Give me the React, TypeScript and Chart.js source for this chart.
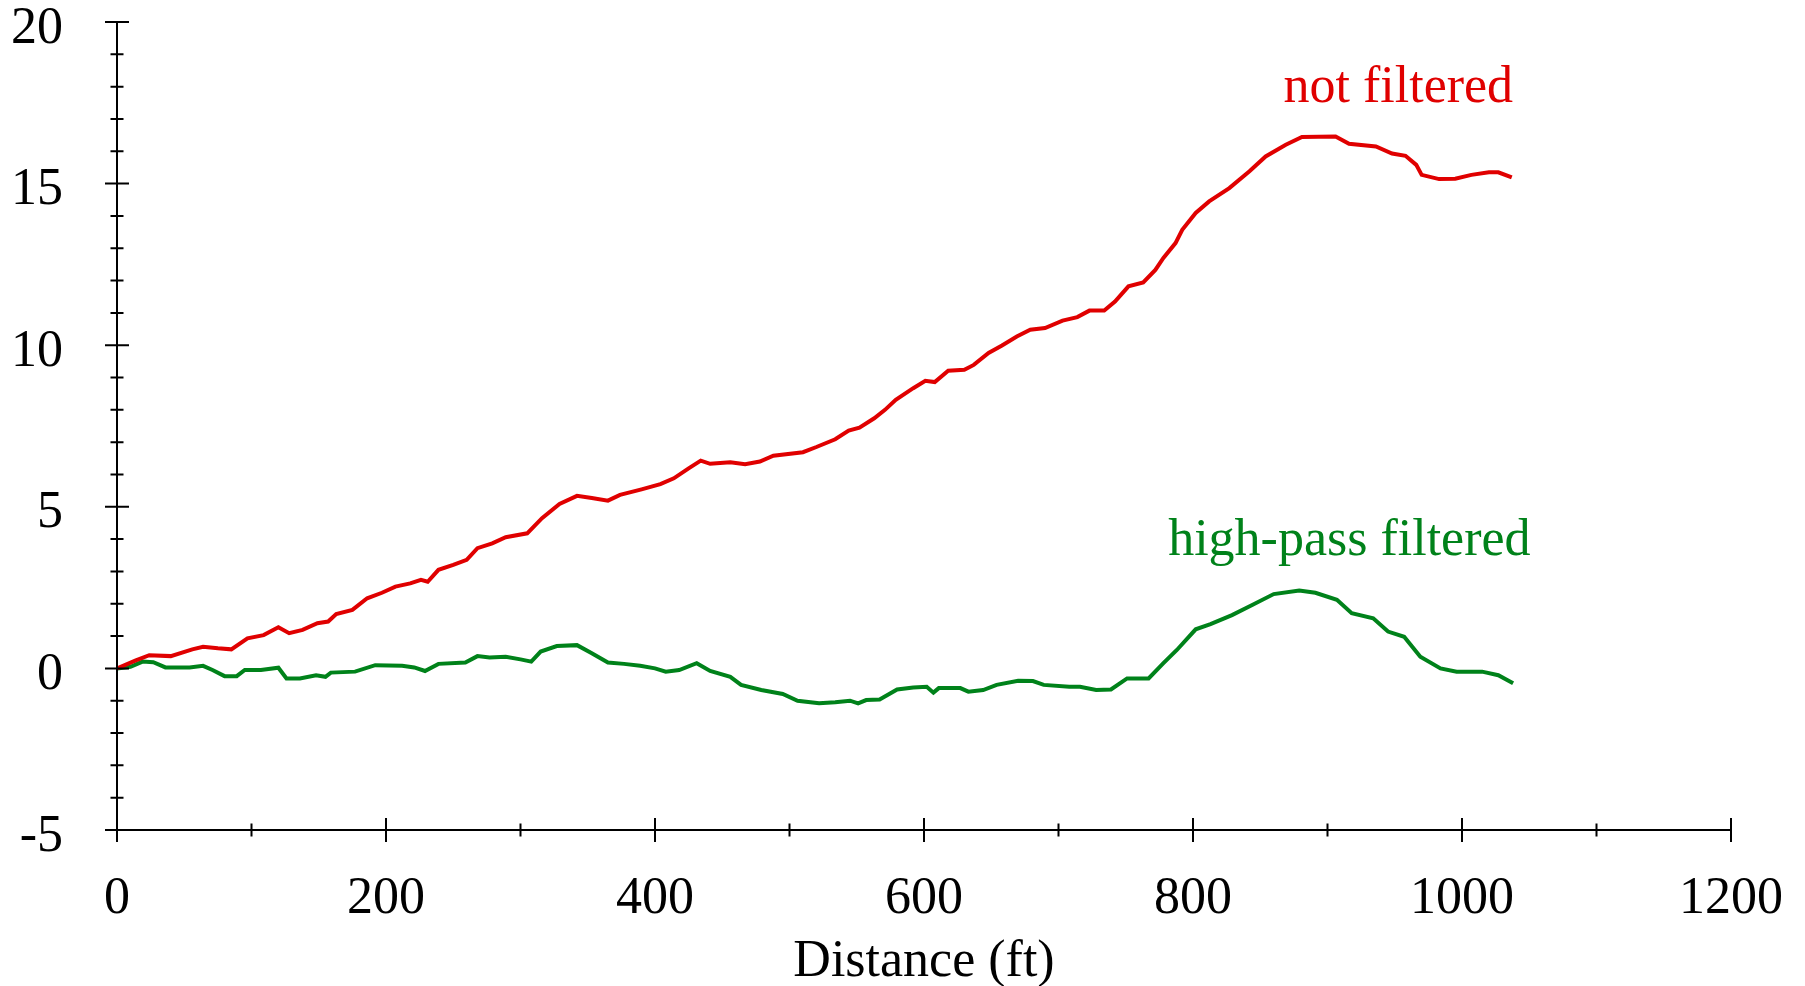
import React, { useEffect, useRef } from "react";
import { Chart, registerables } from "chart.js";

Chart.register(...registerables);

// ---- data ----
const notFilteredDistance = [
  0, 14, 24, 40, 56, 64, 75, 85, 97, 109, 120, 128, 138, 149, 157, 163, 175, 186, 197, 207,
  218, 226, 231, 239, 250, 260, 268, 279, 289, 305, 316, 329, 342, 353, 365, 374, 390, 404, 414, 425,
  434, 441, 456, 467, 478, 488, 510, 520, 534, 544, 552, 563, 571, 579, 592, 601, 608, 618, 630, 637,
  648, 658, 669, 679, 690, 703, 714, 723, 734, 742, 752, 763, 772, 778, 787, 792, 802, 812, 827, 842,
  854, 869, 881, 906, 916, 936, 948, 958, 966, 970, 983, 995, 1007, 1020, 1027, 1037,
];
const notFiltered = [
  0, 0.25, 0.41, 0.38, 0.59, 0.67, 0.62, 0.59, 0.93, 1.03, 1.27, 1.09, 1.19, 1.4, 1.45, 1.68, 1.81, 2.17, 2.34, 2.53,
  2.63, 2.74, 2.68, 3.05, 3.2, 3.36, 3.72, 3.87, 4.06, 4.18, 4.65, 5.09, 5.34, 5.27, 5.19, 5.37, 5.54, 5.7, 5.88, 6.19,
  6.43, 6.33, 6.38, 6.32, 6.4, 6.58, 6.69, 6.85, 7.09, 7.36, 7.45, 7.74, 8.0, 8.31, 8.67, 8.9, 8.86, 9.21, 9.24, 9.39,
  9.76, 9.99, 10.27, 10.48, 10.53, 10.76, 10.87, 11.07, 11.07, 11.35, 11.82, 11.94, 12.33, 12.7, 13.16, 13.57, 14.09, 14.45, 14.86, 15.38,
  15.84, 16.2, 16.44, 16.46, 16.23, 16.15, 15.93, 15.86, 15.58, 15.27, 15.14, 15.15, 15.27, 15.35, 15.35, 15.19,
];

const highPassDistance = [
  0, 10, 19, 27, 36, 54, 64, 71, 80, 89, 95, 107, 120, 126, 136, 148, 155, 159, 177, 192,
  212, 221, 229, 239, 259, 268, 277, 289, 300, 308, 315, 327, 342, 353, 365, 377, 389, 400, 408, 418,
  431, 441, 456, 464, 479, 495, 506, 522, 534, 545, 551, 557, 567, 580, 592, 602, 607, 611, 627, 633,
  644, 654, 670, 681, 689, 708, 716, 728, 739, 751, 767, 778, 788, 802, 813, 829, 844, 860, 879, 891,
  907, 918, 934, 945, 957, 969, 984, 996, 1015, 1027, 1038,
];
const highPassFiltered = [
  0, 0.05, 0.21, 0.19, 0.03, 0.03, 0.08, -0.05, -0.24, -0.24, -0.05, -0.05, 0.02, -0.31, -0.31, -0.21, -0.26, -0.13, -0.1, 0.1,
  0.08, 0.03, -0.08, 0.14, 0.18, 0.38, 0.34, 0.36, 0.28, 0.21, 0.52, 0.69, 0.72, 0.47, 0.18, 0.14, 0.08, 0.0, -0.1, -0.05,
  0.16, -0.08, -0.26, -0.51, -0.67, -0.79, -1.0, -1.08, -1.05, -1.0, -1.08, -0.98, -0.96, -0.65, -0.59, -0.57, -0.75, -0.61, -0.61, -0.72,
  -0.67, -0.51, -0.38, -0.39, -0.51, -0.57, -0.57, -0.67, -0.65, -0.31, -0.31, 0.16, 0.57, 1.21, 1.37, 1.65, 1.96, 2.3, 2.41, 2.34,
  2.12, 1.71, 1.55, 1.14, 0.98, 0.36, 0.0, -0.1, -0.1, -0.21, -0.46,
];

const xTickValues = [0, 200, 400, 600, 800, 1000, 1200];
const yTickValues = [-5, 0, 5, 10, 15, 20];
const xTitle = "Distance (ft)";

const seriesLabels = ["not filtered", "high-pass filtered"];
// label anchor positions in data units (right end, baseline)
const labelX = [1038, 1051];
const labelY = [17.52, 3.5];

const RED = "#e00000";
const GREEN = "#00821a";
const FONT = '"Liberation Serif", "Times New Roman", serif';

const axesPlugin = {
  id: "customAxes",
  afterDatasetsDraw(chart: any) {
    const ctx = chart.ctx;
    const xs = chart.scales.x;
    const ys = chart.scales.y;
    const xMin = xTickValues[0];
    const xMax = xTickValues[xTickValues.length - 1];
    const yMin = yTickValues[0];
    const yMax = yTickValues[yTickValues.length - 1];
    const left = xs.getPixelForValue(xMin);
    const right = xs.getPixelForValue(xMax);
    const bottom = ys.getPixelForValue(yMin);
    const top = ys.getPixelForValue(yMax);
    ctx.save();
    ctx.strokeStyle = "#000";
    ctx.lineWidth = 2;
    ctx.beginPath();
    ctx.moveTo(left, bottom);
    ctx.lineTo(right, bottom);
    ctx.moveTo(left, bottom);
    ctx.lineTo(left, top);
    for (let v = yMin; v <= yMax; v += 1) {
      const y = ys.getPixelForValue(v);
      const len = v % 5 === 0 ? 12 : 6.5;
      ctx.moveTo(left - len, y);
      ctx.lineTo(left + len, y);
    }
    for (let v = xMin; v <= xMax; v += 100) {
      const x = xs.getPixelForValue(v);
      const len = v % 200 === 0 ? 12 : 6.5;
      ctx.moveTo(x, bottom - len);
      ctx.lineTo(x, bottom + len);
    }
    ctx.stroke();

    ctx.font = `52px ${FONT}`;
    ctx.textAlign = "right";
    ctx.textBaseline = "alphabetic";
    const colors = [RED, GREEN];
    seriesLabels.forEach((t, i) => {
      ctx.fillStyle = colors[i];
      ctx.fillText(t, xs.getPixelForValue(labelX[i]), ys.getPixelForValue(labelY[i]));
    });
    ctx.restore();
  },
};

export default function App() {
  const canvasRef = useRef<HTMLCanvasElement | null>(null);

  useEffect(() => {
    if (!canvasRef.current) return;
    const toPoints = (xs: number[], ys: number[]) => xs.map((x, i) => ({ x, y: ys[i] }));
    const chart = new Chart(canvasRef.current, {
      type: "line",
      data: {
        datasets: [
          {
            label: seriesLabels[0],
            data: toPoints(notFilteredDistance, notFiltered),
            borderColor: RED,
            backgroundColor: RED,
            borderWidth: 4,
            pointRadius: 0,
            tension: 0,
          },
          {
            label: seriesLabels[1],
            data: toPoints(highPassDistance, highPassFiltered),
            borderColor: GREEN,
            backgroundColor: GREEN,
            borderWidth: 4,
            pointRadius: 0,
            tension: 0,
          },
        ],
      },
      options: {
        animation: false,
        responsive: false,
        devicePixelRatio: 1,
        layout: { padding: { top: 22, right: 74, left: 0, bottom: 0 } },
        plugins: {
          legend: { display: false },
          tooltip: { enabled: false },
        },
        scales: {
          x: {
            type: "linear",
            min: xTickValues[0],
            max: xTickValues[xTickValues.length - 1],
            afterBuildTicks: (s: any) => {
              s.ticks = xTickValues.map((v) => ({ value: v }));
            },
            ticks: {
              font: { family: FONT, size: 52 },
              color: "#000",
              padding: 38,
              maxRotation: 0,
              autoSkip: false,
              callback: (v: any) => String(v),
            },
            grid: { display: false, drawTicks: false },
            border: { display: false },
            title: {
              display: true,
              text: xTitle,
              color: "#000",
              font: { family: FONT, size: 52 },
              padding: { top: 0, bottom: 6 },
            },
            afterFit: (s: any) => {
              s.height = 170;
              s.paddingLeft = 0;
              s.paddingRight = 0;
            },
          },
          y: {
            type: "linear",
            min: yTickValues[0],
            max: yTickValues[yTickValues.length - 1],
            afterBuildTicks: (s: any) => {
              s.ticks = yTickValues.map((v) => ({ value: v }));
            },
            ticks: {
              font: { family: FONT, size: 52 },
              color: "#000",
              padding: 54,
              labelOffset: 7,
              autoSkip: false,
              callback: (v: any) => String(v),
            },
            grid: { display: false, drawTicks: false },
            border: { display: false },
            afterFit: (s: any) => {
              s.width = 117;
              s.paddingTop = 0;
              s.paddingBottom = 0;
            },
          },
        },
      },
      plugins: [axesPlugin],
    });
    return () => chart.destroy();
  }, []);

  return (
    <div
      style={{
        position: "fixed",
        left: 0,
        top: 0,
        width: 1805,
        height: 986,
        overflow: "hidden",
        background: "#fff",
      }}
    >
      <canvas ref={canvasRef} width={1805} height={1000} style={{ display: "block" }} />
    </div>
  );
}
